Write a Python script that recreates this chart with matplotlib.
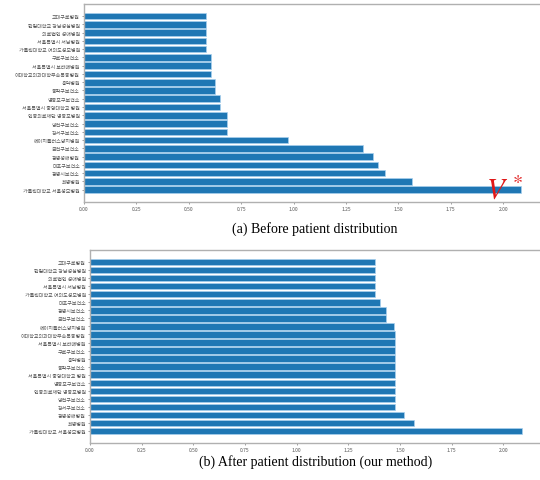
import matplotlib
matplotlib.use("Agg")
import matplotlib.pyplot as plt
import numpy as np

plt.rcParams['font.family'] = ['Noto Sans CJK KR', 'DejaVu Sans']

# (a) before distribution, top to bottom
names_before = [
    "고대구로병원", "한림대학교 강남성심병원", "의료법인 성애병원", "서울특별시 서남병원",
    "가톨릭대학교 여의도성모병원", "구로구보건소", "서울특별시 보라매병원",
    "이대학교의과대학부속목동병원", "홍익병원", "동작구보건소", "영등포구보건소",
    "서울특별시 중앙대학교 병원", "인봉의료재단 영등포병원", "양천구보건소", "강서구보건소",
    "에이치플러스양지병원", "금천구보건소", "광명성애병원", "마포구보건소", "광명시보건소",
    "희명병원", "가톨릭대학교 서울성모병원",
]
vals_before = [0.58, 0.58, 0.58, 0.58, 0.58, 0.604, 0.604, 0.604, 0.623, 0.623, 0.647,
               0.647, 0.68, 0.68, 0.68, 0.974, 1.333, 1.377, 1.405, 1.434, 1.567, 2.086]

# (b) after distribution (our method), top to bottom
names_after = [
    "고대구로병원", "한림대학교 강남성심병원", "의료법인 성애병원", "서울특별시 서남병원",
    "가톨릭대학교 여의도성모병원", "마포구보건소", "광명시보건소", "금천구보건소",
    "에이치플러스양지병원", "이대학교의과대학부속목동병원", "서울특별시 보라매병원",
    "구로구보건소", "홍익병원", "동작구보건소", "서울특별시 중앙대학교 병원", "영등포구보건소",
    "인봉의료재단 영등포병원", "양천구보건소", "강서구보건소", "광명성애병원", "희명병원",
    "가톨릭대학교 서울성모병원",
]
vals_after = [1.377, 1.377, 1.377, 1.377, 1.377, 1.404, 1.433, 1.433, 1.472, 1.477, 1.477,
              1.477, 1.477, 1.477, 1.477, 1.477, 1.477, 1.477, 1.477, 1.519, 1.566, 2.09]

ticks = [0.0, 0.25, 0.5, 0.75, 1.0, 1.25, 1.5, 1.75, 2.0]

fig = plt.figure(figsize=(5.4, 4.81), dpi=100)
ax1 = fig.add_axes([0.1556, 0.578, 0.85, 0.412])
ax2 = fig.add_axes([0.1667, 0.077, 0.84, 0.401])


def draw(ax, names, vals):
    y = np.arange(len(names))
    ax.barh(y, vals, height=0.8, color='#1f77b4', edgecolor='#a8d0ee', linewidth=0.5)
    ax.set_yticks(y)
    ax.set_yticklabels(names, fontsize=3.6, color='#333333')
    ax.invert_yaxis()
    ax.set_xticks(ticks)
    ax.set_xticklabels(["%.2f" % t for t in ticks], fontsize=3.6, color='#333333')
    ax.tick_params(length=1.5, width=0.4, pad=1.5, colors='#555555')
    for s in ax.spines.values():
        s.set_color('#b0b0b0')
        s.set_linewidth(1.0)


draw(ax1, names_before, vals_before)
draw(ax2, names_after, vals_after)

# red marker for the overloaded hospital
ax1.text(1.92, 22.0, r'$V^{\,*}$', color='#e01818', fontsize=21, math_fontfamily='stix',
         clip_on=False, zorder=10)

fig.text(0.583, 0.524, "(a) Before patient distribution", ha='center', va='center',
         fontsize=10, family='Liberation Serif')
fig.text(0.585, 0.040, "(b) After patient distribution (our method)", ha='center',
         va='center', fontsize=10, family='Liberation Serif')

fig.savefig("out.png", dpi=100)
